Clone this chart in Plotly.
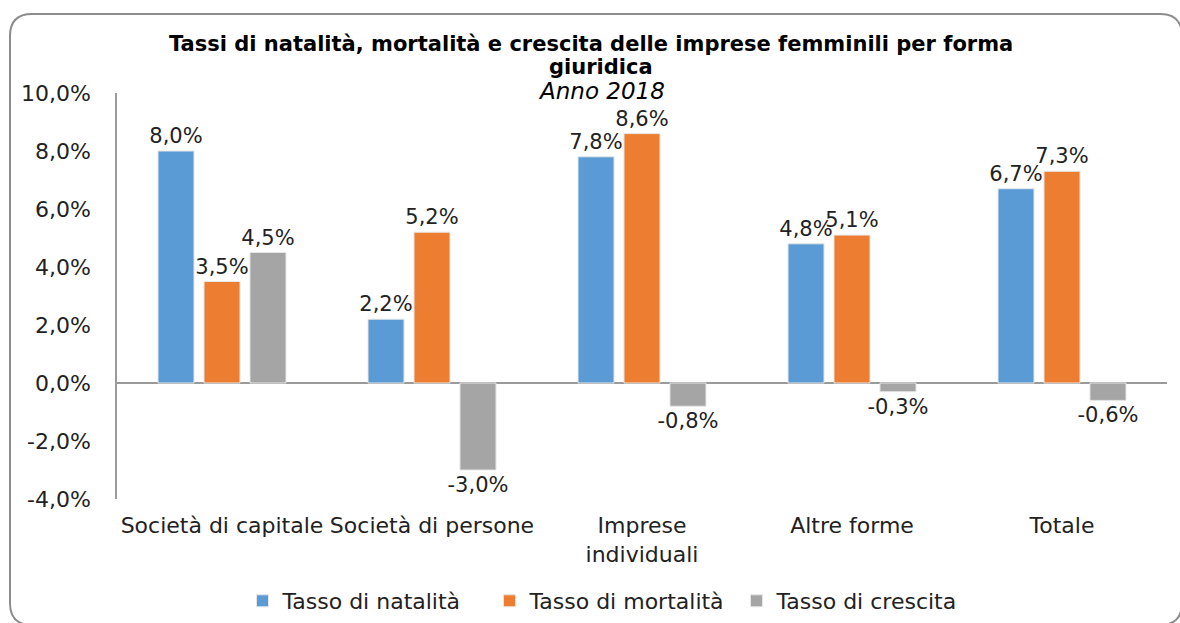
import plotly.graph_objects as go

categories = ["Società di capitale", "Società di persone", "Imprese<br>individuali", "Altre forme", "Totale"]
natalita = [0.080, 0.022, 0.078, 0.048, 0.067]
mortalita = [0.035, 0.052, 0.086, 0.051, 0.073]
crescita = [0.045, -0.030, -0.008, -0.003, -0.006]
series_names = ["Tasso di natalità", "Tasso di mortalità", "Tasso di crescita"]
colors = ["#5B9BD5", "#ED7D31", "#A5A5A5"]
y_ticks = [-0.04, -0.02, 0.0, 0.02, 0.04, 0.06, 0.08, 0.10]


def pct(v):
    return f"{v * 100:.1f}%".replace(".", ",")


W, H = 1180, 623
L, R, T, B = 117, 13, 93, 124
PW, PH = W - L - R, H - T - B


def px(x):
    return (x - L) / PW


def py(y):
    return (H - B - y) / PH


FONT = "DejaVu Sans, Verdana, sans-serif"
FS = 22

fig = go.Figure()
for name, vals, col in zip(series_names, [natalita, mortalita, crescita], colors):
    fig.add_trace(go.Bar(
        x=categories, y=vals, name=name,
        marker=dict(color=col, line=dict(color="#e6e6e6", width=1)),
        text=[pct(v) for v in vals], textposition="outside", textangle=0,
        constraintext="none",
        textfont=dict(size=21, color="#222222", family=FONT),
        cliponaxis=False,
    ))

# rounded border
x0, y0, x1, y1, r = 10, 14, 1182, 625, 22
rx, ry = r / PW, r / PH
X0, X1, Y0, Y1 = px(x0), px(x1), py(y0), py(y1)
path = (f"M {X0+rx},{Y0} L {X1-rx},{Y0} Q {X1},{Y0} {X1},{Y0-ry} "
        f"L {X1},{Y1+ry} Q {X1},{Y1} {X1-rx},{Y1} "
        f"L {X0+rx},{Y1} Q {X0},{Y1} {X0},{Y1+ry} "
        f"L {X0},{Y0-ry} Q {X0},{Y0} {X0+rx},{Y0} Z")

fig.update_layout(
    width=W, height=H,
    margin=dict(l=L, r=R, t=T, b=B, pad=0, autoexpand=False),
    paper_bgcolor="white", plot_bgcolor="white",
    separators=",.",
    font=dict(family=FONT, size=FS, color="#222222"),
    barmode="group", bargap=0.343, bargroupgap=0.217,
    showlegend=True,
    legend=dict(orientation="h", x=px(613), xanchor="center", y=py(601), yanchor="middle",
                font=dict(size=FS, family=FONT), itemwidth=30, entrywidth=202,
                traceorder="normal"),
    xaxis=dict(showgrid=False, showline=False, ticks="outside", ticklen=7, tickcolor="rgba(0,0,0,0)",
               tickfont=dict(size=FS, family=FONT), automargin=False),
    yaxis=dict(range=[-0.04, 0.10], tickvals=y_ticks, ticktext=[pct(v) for v in y_ticks],
               showgrid=False, automargin=False,
               showline=True, linecolor="#9a9a9a", linewidth=1.5, ticks="",
               zeroline=True, zerolinecolor="#9a9a9a", zerolinewidth=1.5,
               ticklabelstandoff=20, tickfont=dict(size=FS, family=FONT)),
    shapes=[dict(type="path", path=path, xref="paper", yref="paper",
                 line=dict(color="#8c8c8c", width=2), fillcolor="rgba(0,0,0,0)", layer="below")],
    annotations=[
        dict(text="<b>Tassi di natalità, mortalità e crescita delle imprese femminili per forma</b>",
             x=px(591), y=py(44), xref="paper", yref="paper", xanchor="center", yanchor="middle",
             showarrow=False, font=dict(size=21, family=FONT, color="#000000")),
        dict(text="<b>giuridica</b>",
             x=px(601), y=py(67), xref="paper", yref="paper", xanchor="center", yanchor="middle",
             showarrow=False, font=dict(size=21, family=FONT, color="#000000")),
        dict(text="<i>Anno 2018</i>", x=px(601), y=py(91), xref="paper", yref="paper",
             xanchor="center", yanchor="middle", showarrow=False,
             font=dict(size=23, family=FONT, color="#000000")),
    ],
)

fig.write_html("out.html", config={"displayModeBar": False},
               post_script="document.body.style.margin='0px';")
